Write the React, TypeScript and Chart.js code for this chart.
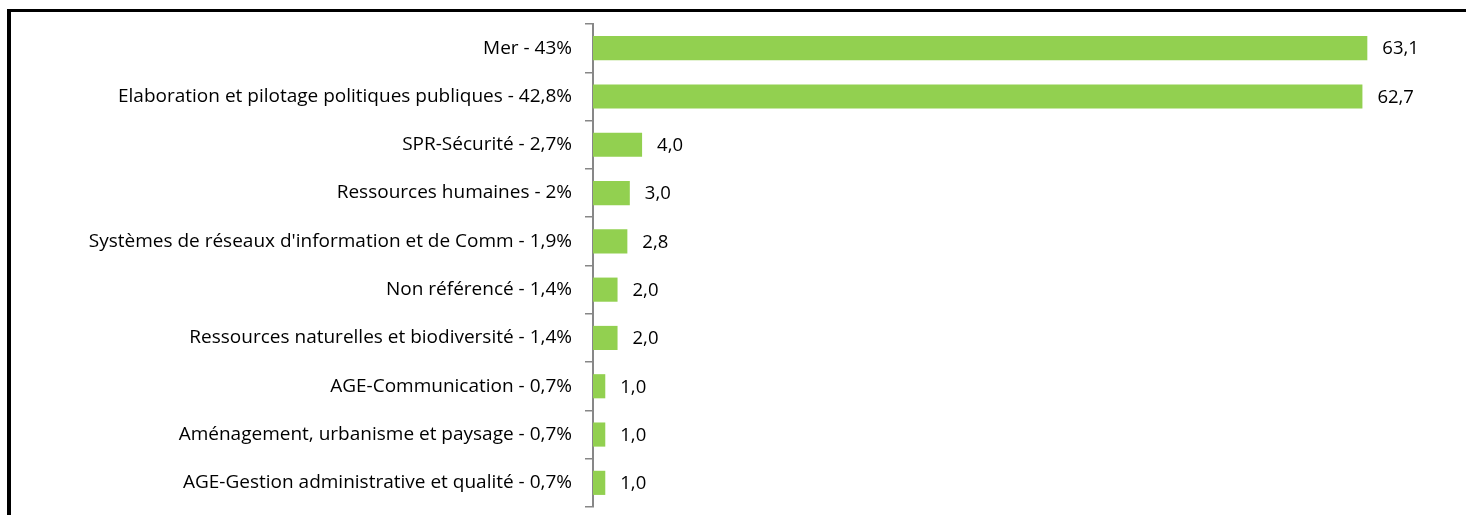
import React, { useEffect, useRef } from "react";
import { Chart, registerables } from "chart.js";

Chart.register(...registerables);

const categories = [
  "Mer - 43%",
  "Elaboration et pilotage politiques publiques - 42,8%",
  "SPR-Sécurité - 2,7%",
  "Ressources humaines - 2%",
  "Systèmes de réseaux d'information et de Comm - 1,9%",
  "Non référencé - 1,4%",
  "Ressources naturelles et biodiversité - 1,4%",
  "AGE-Communication - 0,7%",
  "Aménagement, urbanisme et paysage - 0,7%",
  "AGE-Gestion administrative et qualité - 0,7%",
];

const values = [63.1, 62.7, 4.0, 3.0, 2.8, 2.0, 2.0, 1.0, 1.0, 1.0];

const FONT = "'Open Sans', sans-serif";
const FONT_SIZE = 18.5;
const TICK_FONT_SIZE = 19;
const AXIS_X = 593;

export default function App() {
  const ref = useRef<HTMLCanvasElement | null>(null);

  useEffect(() => {
    if (!ref.current) return;

    const framePlugin = {
      id: "frame",
      beforeDraw(chart: any) {
        const ctx = chart.ctx;
        ctx.save();
        ctx.fillStyle = "#ffffff";
        ctx.fillRect(0, 0, chart.width, chart.height);
        ctx.fillStyle = "#000000";
        ctx.fillRect(7, 9, 4, chart.height - 9);
        ctx.fillRect(7, 9, chart.width - 7, 3);
        ctx.restore();
      },
    };

    const valueLabels = {
      id: "valueLabels",
      afterDatasetsDraw(chart: any) {
        const ctx = chart.ctx;
        const meta = chart.getDatasetMeta(0);
        ctx.save();
        ctx.font = `${FONT_SIZE}px ${FONT}`;
        ctx.fillStyle = "#000000";
        ctx.textAlign = "left";
        ctx.textBaseline = "middle";
        meta.data.forEach((bar: any, i: number) => {
          const txt = values[i].toFixed(1).replace(".", ",");
          ctx.fillText(txt, bar.x + 15, bar.y + 1);
        });
        ctx.restore();
      },
    };

    const chart = new Chart(ref.current, {
      type: "bar",
      data: {
        labels: categories,
        datasets: [
          {
            data: values,
            backgroundColor: "#92D050",
            borderWidth: 0,
            barPercentage: 0.5,
            categoryPercentage: 1,
          },
        ],
      },
      options: {
        indexAxis: "y",
        animation: false,
        responsive: false,
        maintainAspectRatio: false,
        layout: { padding: { left: 0, right: 14, top: 24, bottom: 8 } },
        plugins: {
          legend: { display: false },
          tooltip: { enabled: false },
        },
        scales: {
          x: {
            display: false,
            min: 0,
            max: 70,
          },
          y: {
            afterFit(scale: any) {
              scale.width = AXIS_X;
              scale.paddingTop = 0;
              scale.paddingBottom = 0;
            },
            grid: {
              offset: true,
              drawOnChartArea: false,
              drawTicks: true,
              tickLength: 8,
              color: "#878787",
              lineWidth: 1.5,
            },
            border: { display: true, color: "#878787", width: 2 },
            ticks: {
              color: "#000000",
              padding: 13,
              font: { family: FONT, size: TICK_FONT_SIZE },
              autoSkip: false,
            },
          },
        },
      },
      plugins: [framePlugin, valueLabels],
    });

    return () => chart.destroy();
  }, []);

  return (
    <div style={{ position: "absolute", left: 0, top: 0, width: 1466, height: 515 }}>
      <canvas ref={ref} width={1466} height={515} style={{ display: "block" }} />
    </div>
  );
}
